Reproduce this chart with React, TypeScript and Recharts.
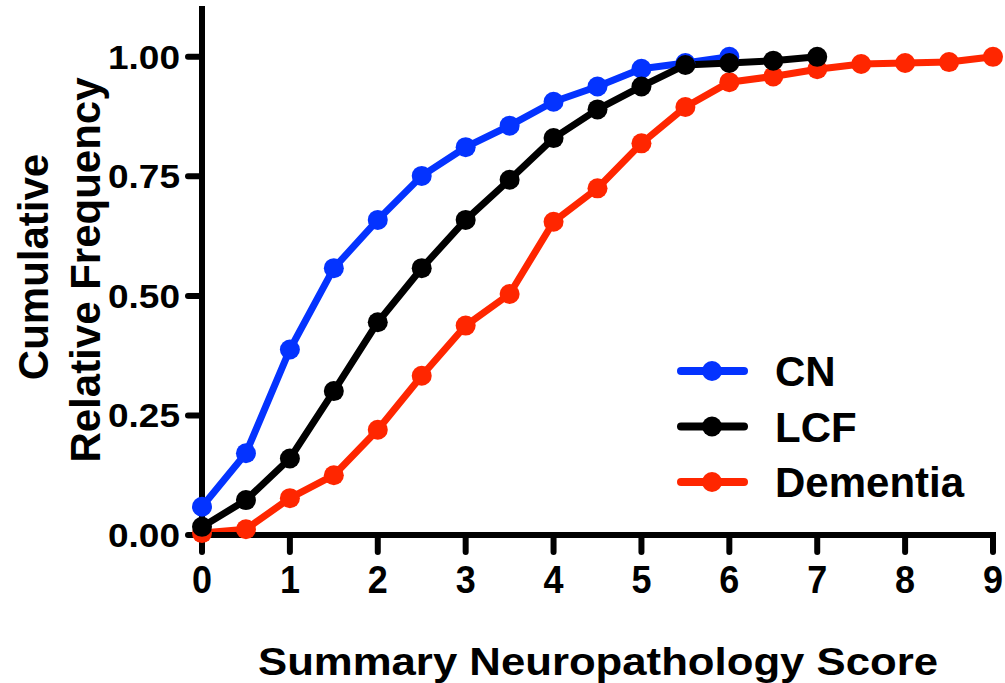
import React from 'react';
import { LineChart, Line, XAxis, YAxis, Label } from 'recharts';

// x positions (Summary Neuropathology Score), half-point steps
const scores = [0, 0.5, 1, 1.5, 2, 2.5, 3, 3.5, 4, 4.5, 5, 5.5, 6, 6.5, 7, 7.5, 8, 8.5, 9];

// cumulative relative frequency per group
const cnValues = [0.059, 0.171, 0.388, 0.558, 0.659, 0.751, 0.811, 0.856, 0.906, 0.938, 0.975, 0.987, 1.0];
const lcfValues = [0.017, 0.073, 0.16, 0.301, 0.445, 0.558, 0.659, 0.743, 0.83, 0.89, 0.938, 0.983, 0.987, 0.992, 1.0];
const dementiaValues = [0.004, 0.012, 0.077, 0.125, 0.22, 0.333, 0.438, 0.504, 0.655, 0.725, 0.819, 0.895, 0.947, 0.959, 0.974, 0.985, 0.987, 0.989, 1.0];

const xTicks = [0, 1, 2, 3, 4, 5, 6, 7, 8, 9];
const yTicks = [0, 0.25, 0.5, 0.75, 1.0];

const seriesNames = ['CN', 'LCF', 'Dementia'];
const seriesColors = ['#0433ff', '#000000', '#ff2600'];

const FONT = '"Liberation Sans", Arial, Helvetica, sans-serif';

const toPoints = (values: number[]) => values.map((v, i) => ({ x: scores[i], y: v }));

const cnData = toPoints(cnValues);
const lcfData = toPoints(lcfValues);
const dementiaData = toPoints(dementiaValues);

const YTick = (props: any) => {
    const { x, y, payload } = props;
    return (
        <text
            x={x}
            y={y}
            dy={12}
            textAnchor="end"
            fontFamily={FONT}
            fontWeight="bold"
            fontSize={33}
            fill="#000"
            textLength={72}
            lengthAdjust="spacingAndGlyphs"
        >
            {payload.value.toFixed(2)}
        </text>
    );
};

const XTick = (props: any) => {
    const { x, y, payload } = props;
    return (
        <text
            x={x - 10}
            y={y}
            dy={39}
            fontFamily={FONT}
            fontWeight="bold"
            fontSize={38}
            fill="#000"
            textLength={20}
            lengthAdjust="spacingAndGlyphs"
        >
            {payload.value}
        </text>
    );
};

const YTitle = () => (
    <g fontFamily={FONT} fontWeight="bold" fontSize={42} fill="#000">
        <text transform="translate(48,267) rotate(-90)" textAnchor="middle">Cumulative</text>
        <text transform="translate(100,270) rotate(-90)" textAnchor="middle">Relative Frequency</text>
    </g>
);

const XTitle = () => (
    <text
        x={258}
        y={675}
        fontFamily={FONT}
        fontWeight="bold"
        fontSize={38}
        fill="#000"
        textLength={680}
        lengthAdjust="spacingAndGlyphs"
    >
        Summary Neuropathology Score
    </text>
);

const LegendBox = () => (
    <svg width={345} height={180} style={{ position: 'absolute', left: 660, top: 340 }}>
        {seriesNames.map((name, i) => {
            const cy = 31 + i * 55.5;
            return (
                <g key={name}>
                    <line x1={21} x2={84} y1={cy} y2={cy} stroke={seriesColors[i]} strokeWidth={8} strokeLinecap="round" />
                    <circle cx={52} cy={cy} r={10} fill={seriesColors[i]} />
                    <text x={115} y={cy + 15} fontFamily={FONT} fontWeight="bold" fontSize={42} fill="#000">
                        {name}
                    </text>
                </g>
            );
        })}
    </svg>
);

const App: React.FC = () => {
    const axisStroke = { stroke: '#000', strokeWidth: 6, strokeLinecap: 'square' as const };
    const tickStroke = { stroke: '#000', strokeWidth: 6, strokeLinecap: 'round' as const };

    return (
        <div style={{ position: 'absolute', left: 0, top: 0, width: 1005, height: 683, background: '#fff' }}>
            <LineChart width={1005} height={683} margin={{ top: 9, right: 12, left: 0, bottom: 0 }}>
                <XAxis
                    type="number"
                    dataKey="x"
                    domain={[0, 9]}
                    ticks={xTicks}
                    height={148}
                    axisLine={axisStroke}
                    tickLine={tickStroke}
                    tickSize={17}
                    tickMargin={2}
                    tick={<XTick />}
                    interval={0}
                >
                    <Label content={() => <XTitle />} />
                </XAxis>
                <YAxis
                    type="number"
                    domain={[0, 1.1]}
                    ticks={yTicks}
                    width={202}
                    axisLine={axisStroke}
                    tickLine={tickStroke}
                    tickSize={14}
                    tickMargin={8}
                    tick={<YTick />}
                    interval={0}
                >
                    <Label content={() => <YTitle />} />
                </YAxis>
                <Line
                    data={dementiaData}
                    dataKey="y"
                    name="Dementia"
                    stroke={seriesColors[2]}
                    strokeWidth={7}
                    strokeLinejoin="round"
                    dot={{ r: 10, fill: seriesColors[2], stroke: 'none' }}
                    activeDot={false}
                    isAnimationActive={false}
                />
                <Line
                    data={cnData}
                    dataKey="y"
                    name="CN"
                    stroke={seriesColors[0]}
                    strokeWidth={7}
                    strokeLinejoin="round"
                    dot={{ r: 10, fill: seriesColors[0], stroke: 'none' }}
                    activeDot={false}
                    isAnimationActive={false}
                />
                <Line
                    data={lcfData}
                    dataKey="y"
                    name="LCF"
                    stroke={seriesColors[1]}
                    strokeWidth={7}
                    strokeLinejoin="round"
                    dot={{ r: 10, fill: seriesColors[1], stroke: 'none' }}
                    activeDot={false}
                    isAnimationActive={false}
                />
            </LineChart>
            <LegendBox />
        </div>
    );
};

export default App;
